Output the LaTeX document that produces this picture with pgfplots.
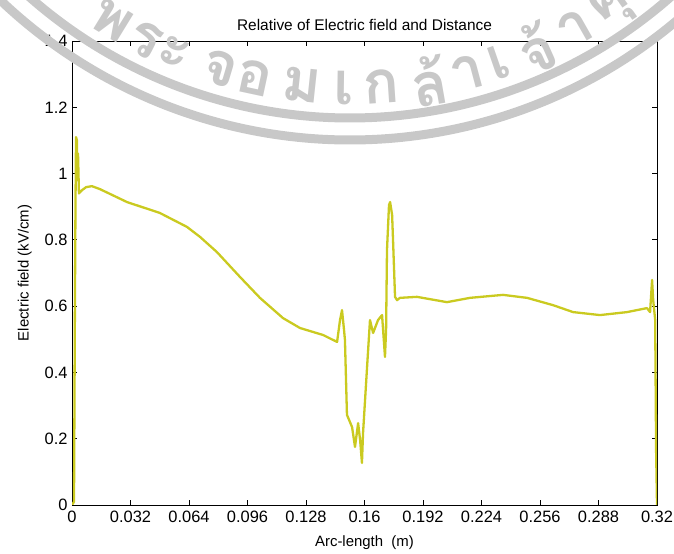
\documentclass[border=0pt]{standalone}
\usepackage{pgfplots}
\pgfplotsset{compat=1.18}
\usepackage{fontspec}
\setmainfont{Liberation Sans}
\newfontfamily\thaifont[Script=Thai]{Loma}
\definecolor{curve}{RGB}{202,202,32}
\definecolor{wm}{RGB}{200,200,200}
\begin{document}
\begin{tikzpicture}[x=1bp,y=1bp]
\begin{axis}[
  at={(0,0)}, anchor=south west,
  scale only axis, width=585bp, height=464bp,
  xmin=0, xmax=0.32, ymin=0, ymax=1.4,
  xtick={0,0.032,0.064,0.096,0.128,0.16,0.192,0.224,0.256,0.288,0.32},
  xticklabels={0,0.032,0.064,0.096,0.128,0.16,0.192,0.224,0.256,0.288,0.32},
  ytick={0,0.2,0.4,0.6,0.8,1,1.2,1.4},
  yticklabels={0,0.2,0.4,0.6,0.8,1,1.2,1.4},
  tick align=inside, major tick length=5bp,
  tick style={black, line width=0.8bp},
  axis line style={black, line width=0.8bp},
  every tick label/.append style={font=\fontsize{16.5}{16.5}\selectfont},
  xticklabel style={yshift=-3bp},
  yticklabel style={xshift=-1bp},
  title={Relative of Electric field and Distance},
  title style={font=\fontsize{15.5}{15.5}\selectfont, yshift=1bp},
  xlabel={Arc-length\ \ (m)},
  ylabel={Electric field (kV/cm)},
  label style={font=\fontsize{15}{15}\selectfont},
  xlabel style={yshift=-6bp},
  ylabel style={yshift=6bp},
]
\addplot[curve, line width=2.3bp, line join=round] coordinates {
(0.0000,0.000)(0.0011,0.010)(0.0016,0.600)(0.0019,0.900)(0.0022,1.110)
(0.0027,1.100)(0.0030,0.980)(0.0033,1.060)(0.0038,0.940)(0.0044,0.944)
(0.0055,0.950)(0.0077,0.959)(0.0109,0.962)(0.0153,0.953)(0.0301,0.914)
(0.0481,0.881)(0.0629,0.839)(0.0700,0.809)(0.0793,0.763)(0.0919,0.688)
(0.1028,0.625)(0.1154,0.564)(0.1247,0.534)(0.1373,0.513)(0.1450,0.492)
(0.1466,0.558)(0.1477,0.588)(0.1488,0.528)(0.1493,0.498)(0.1504,0.272)
(0.1532,0.235)(0.1548,0.175)(0.1565,0.247)(0.1576,0.196)(0.1586,0.127)
(0.1592,0.217)(0.1614,0.416)(0.1630,0.558)(0.1647,0.519)(0.1674,0.558)
(0.1696,0.573)(0.1712,0.447)(0.1718,0.528)(0.1723,0.769)(0.1734,0.905)
(0.1740,0.914)(0.1751,0.875)(0.1756,0.800)(0.1767,0.628)(0.1778,0.618)
(0.1794,0.625)(0.1887,0.628)(0.2051,0.612)(0.2177,0.625)(0.2358,0.634)
(0.2489,0.625)(0.2631,0.603)(0.2741,0.582)(0.2888,0.573)(0.3036,0.582)
(0.3145,0.594)(0.3162,0.582)(0.3173,0.679)(0.3179,0.619)(0.3190,0.558)
(0.3195,0.166)(0.3200,0.000)
};
\end{axis}
\begin{scope}
\clip (-72,-49) rectangle (602,505);
\draw[wm, line width=9bp] (278,872) ++(-145:485) arc[start angle=-145, end angle=-35, radius=485];
\draw[wm, line width=9bp] (278,872) ++(-145:507) arc[start angle=-145, end angle=-35, radius=507];
\foreach \ch/\a in {พ/-31.5,ร/-26.7,ะ/-22.7,จ/-16.6,อ/-12.1,ม/-6.1,เ/-0.8,ก/3.9,ล้/10,า/15,เ/19.1,จ้/24.2,า/29.6,คุ/35}{
  \node[rotate=\a, text=wm, inner sep=0pt] at ({278+455*sin(\a)},{872-455*cos(\a)}) {\thaifont\bfseries\fontsize{60}{60}\selectfont \ch};
}
\end{scope}
\pgfresetboundingbox
\path (-72,-49) rectangle (602,505);
\end{tikzpicture}
\end{document}
